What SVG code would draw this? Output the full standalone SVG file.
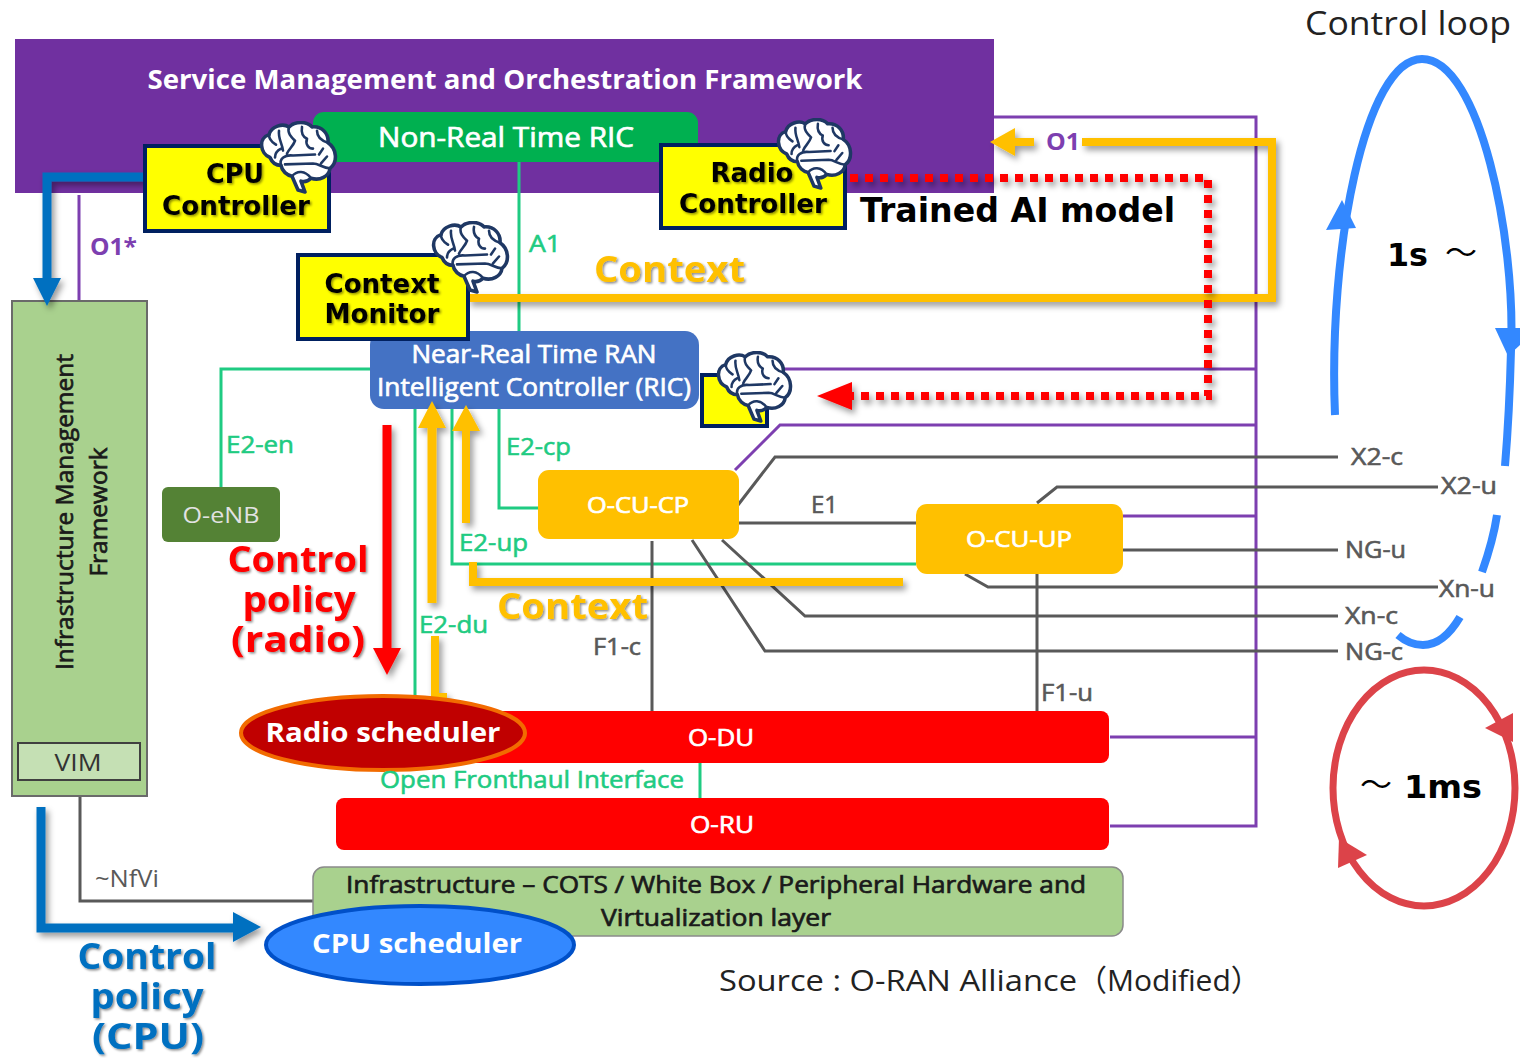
<svg xmlns="http://www.w3.org/2000/svg" xmlns:xlink="http://www.w3.org/1999/xlink" width="1520" height="1058" viewBox="0 0 1520 1058">
<defs>
<style>
text{font-family:"Open Sans","Noto Sans","Liberation Sans",sans-serif}
.b{font-weight:700}
.sb{stroke-width:.7}
.w{fill:#fff}
.sb.w{stroke:#fff}
.sb.d{fill:#1a1a1a;stroke:#1a1a1a}
.k{fill:#000}
.dv{font-family:"DejaVu Sans",sans-serif;font-weight:700}
.ctl{fill:#ff0;stroke:#002060;stroke-width:4}
.pur{fill:none;stroke:#7D3FB0;stroke-width:3}
.grn{fill:none;stroke:#1FCB82;stroke-width:3}
.gry{fill:none;stroke:#595959;stroke-width:3}
.gt{fill:#1FCB82;stroke:#1FCB82;stroke-width:.6;font-size:24px}
.gy{fill:#595959;stroke:#595959;stroke-width:.6;font-size:24px}
.yl{fill:none;stroke:#FFC000;stroke-width:8}
.ctx{fill:#FFC000;font-weight:700;font-size:35px}
</style>
<filter id="sh" x="-20%" y="-20%" width="150%" height="150%"><feDropShadow dx="3" dy="4" stdDeviation="3" flood-color="#000" flood-opacity=".4"/></filter>
<filter id="ts" x="-10%" y="-20%" width="120%" height="150%"><feDropShadow dx="1.5" dy="1.5" stdDeviation="1" flood-color="#000" flood-opacity=".45"/></filter>
<symbol id="brain" viewBox="0 0 82 74" preserveAspectRatio="none">
<path d="M13 37C3 33 1 17 12 14C14 5 26 2 32 6C38 0 50 0 55 6C65 5 72 13 71 22C80 28 81 42 73 48C72 56 63 61 54 58C51 61 47 62 44 61L48 72L41 70L35 56C30 55 25 51 24 45C19 45 15 42 13 37Z" fill="#fff" stroke="#1F3864" stroke-width="3.6" stroke-linejoin="round"/>
<path d="M12 14C12 20 16 22 19 24M22 10C21 18 25 22 26 30M32 6C30 12 34 16 38 20M38 20C36 26 32 28 30 33M45 6C44 12 46 16 50 18M50 18C48 24 52 28 56 28M60 10C60 16 64 20 71 22M24 45C22 38 28 34 36 35L58 34M28 44L56 43C62 43 66 48 73 48M62 34L66 28M64 43L70 36M24 28C20 30 18 33 18 37M35 56C40 50 48 50 54 58" fill="none" stroke="#1F3864" stroke-width="2.6" stroke-linecap="round"/>
</symbol>
</defs>
<rect width="1520" height="1058" fill="#fff"/>

<g id="smo">
<rect x="15" y="39" width="979" height="154" fill="#7030A0"/>
<text class="b w" x="505" y="89" font-size="26" text-anchor="middle" textLength="715" lengthAdjust="spacingAndGlyphs">Service Management and Orchestration Framework</text>
</g>
<g id="nonrt">
<rect x="313" y="112" width="385" height="50" rx="11" fill="#00B050"/>
<text class="sb w" x="506" y="147" font-size="27" text-anchor="middle" textLength="256" lengthAdjust="spacingAndGlyphs">Non-Real Time RIC</text>
</g>

<g id="connectors">
<path class="pur" d="M994 117H1256V826H1110M1110 737H1256M1123 516H1256M760 369H1256M735 470L780 425H1256M79 195V301"/>
<path class="grn" d="M519 162V331M370 369H221V487M499 409V508H538M452 409V564H916M415 409V696M700 763V798"/>
<path class="gry" d="M738 505L775 457H1338M1037 503L1057 487H1438M739 523H916M1123 550H1338M965 574L988 587H1438M722 540L805 616H1338M692 540L765 651H1338M652 541V711M1037 574V711M80 796V901H313"/>
</g>

<g id="enb">
<rect x="162" y="487" width="118" height="55" rx="6" fill="#548235"/>
<text x="221" y="523" font-size="22" fill="#E2E2E2" text-anchor="middle" textLength="77" lengthAdjust="spacingAndGlyphs">O-eNB</text>
</g>
<g id="cucp">
<rect x="538" y="470" width="201" height="69" rx="11" fill="#FFC000"/>
<text class="sb w" x="638" y="513" font-size="22" text-anchor="middle" textLength="102" lengthAdjust="spacingAndGlyphs">O-CU-CP</text>
</g>
<g id="cuup">
<rect x="916" y="504" width="207" height="70" rx="11" fill="#FFC000"/>
<text class="sb w" x="1019" y="547" font-size="22" text-anchor="middle" textLength="106" lengthAdjust="spacingAndGlyphs">O-CU-UP</text>
</g>
<g id="du">
<rect x="440" y="711" width="669" height="52" rx="8" fill="#f00"/>
<text class="sb w" x="721" y="746" font-size="23" text-anchor="middle" textLength="66" lengthAdjust="spacingAndGlyphs">O-DU</text>
</g>
<g id="ru">
<rect x="336" y="798" width="773" height="52" rx="8" fill="#f00"/>
<text class="sb w" x="722" y="833" font-size="23" text-anchor="middle" textLength="64" lengthAdjust="spacingAndGlyphs">O-RU</text>
</g>
<g id="infra">
<rect x="313" y="867" width="810" height="69" rx="11" fill="#A9D18E" stroke="#8a8a8a" stroke-width="1.5"/>
<text class="sb d" x="716" y="893" font-size="24" text-anchor="middle" textLength="740" lengthAdjust="spacingAndGlyphs">Infrastructure – COTS / White Box / Peripheral Hardware and</text>
<text class="sb d" x="716" y="926" font-size="24" text-anchor="middle" textLength="230" lengthAdjust="spacingAndGlyphs">Virtualization layer</text>
</g>
<g id="imf">
<rect x="12" y="301" width="135" height="495" fill="#A9D18E" stroke="#6a6a6a" stroke-width="2"/>
<text class="sb d" transform="translate(73 512) rotate(-90)" font-size="24" text-anchor="middle" textLength="316" lengthAdjust="spacingAndGlyphs">Infrastructure Management</text>
<text class="sb d" transform="translate(107 512) rotate(-90)" font-size="24" text-anchor="middle" textLength="129" lengthAdjust="spacingAndGlyphs">Framework</text>
<rect x="18" y="743" width="122" height="37" fill="#C5E0B4" stroke="#404040" stroke-width="2"/>
<text x="78" y="771" font-size="24" fill="#333" text-anchor="middle" textLength="47" lengthAdjust="spacingAndGlyphs">VIM</text>
</g>
<g id="ric">
<rect x="370" y="331" width="329" height="78" rx="14" fill="#4472C4"/>
<text class="sb w" x="534" y="363" font-size="25" text-anchor="middle" textLength="245" lengthAdjust="spacingAndGlyphs">Near-Real Time RAN</text>
<text class="sb w" x="534" y="396" font-size="25" text-anchor="middle" textLength="314" lengthAdjust="spacingAndGlyphs">Intelligent Controller (RIC)</text>
</g>

<g id="flows">
<g filter="url(#sh)">
<path d="M145 177H47V280" fill="none" stroke="#0070C0" stroke-width="9"/>
<path d="M33 278H61L47 306Z" fill="#0070C0"/>
</g>
<g filter="url(#sh)">
<path d="M41 807V928H235" fill="none" stroke="#0070C0" stroke-width="9"/>
<path d="M233 912L261 927L233 942Z" fill="#0070C0"/>
</g>
<g filter="url(#sh)">
<path d="M387 425V650" fill="none" stroke="#f00" stroke-width="9"/>
<path d="M373 648H401L387 675Z" fill="#f00"/>
</g>
<g filter="url(#sh)">
<path d="M432 603V428" fill="none" stroke="#FFC000" stroke-width="9"/>
<path d="M418 428H446L432 401Z" fill="#FFC000"/>
<path d="M466 523V430" fill="none" stroke="#FFC000" stroke-width="8"/>
<path d="M452 431H480L466 405Z" fill="#FFC000"/>
<path class="yl" d="M435 636V697H447"/>
<path class="yl" d="M473 562V582H903"/>
<path class="yl" d="M468 298H1272V142H1082"/>
<path d="M1034 142H1014" fill="none" stroke="#FFC000" stroke-width="8"/>
<path d="M1015 128V156L990 142Z" fill="#FFC000"/>
</g>
<g filter="url(#sh)">
<path d="M850 178H1208V396H850" fill="none" stroke="#f00" stroke-width="8" stroke-dasharray="8 7"/>
<path d="M852 382V410L817 396Z" fill="#f00"/>
</g>
</g>

<g id="radio-scheduler">
<ellipse cx="383" cy="733" rx="142" ry="37" fill="#C00000" stroke="#F26B00" stroke-width="4"/>
<text class="b w" x="383" y="742" font-size="26" text-anchor="middle" textLength="235" lengthAdjust="spacingAndGlyphs">Radio scheduler</text>
</g>
<g id="cpu-scheduler">
<ellipse cx="420" cy="945" rx="154" ry="39" fill="#3388FF" stroke="#0050C8" stroke-width="4"/>
<text class="b w" x="417" y="953" font-size="26" text-anchor="middle" textLength="210" lengthAdjust="spacingAndGlyphs">CPU scheduler</text>
</g>

<g id="cpu-controller">
<rect class="ctl" x="145" y="146" width="184" height="85"/>
<g filter="url(#ts)">
<text class="dv k" x="235" y="183" font-size="27" text-anchor="middle" textLength="58" lengthAdjust="spacingAndGlyphs">CPU</text>
<text class="dv k" x="236" y="215" font-size="27" text-anchor="middle" textLength="148" lengthAdjust="spacingAndGlyphs">Controller</text>
</g>
<use href="#brain" xlink:href="#brain" x="257" y="121" width="82" height="73"/>
</g>
<g id="radio-controller">
<rect class="ctl" x="661" y="145" width="184" height="83"/>
<g filter="url(#ts)">
<text class="dv k" x="752" y="182" font-size="27" text-anchor="middle" textLength="83" lengthAdjust="spacingAndGlyphs">Radio</text>
<text class="dv k" x="753" y="213" font-size="27" text-anchor="middle" textLength="148" lengthAdjust="spacingAndGlyphs">Controller</text>
</g>
<use href="#brain" xlink:href="#brain" x="774" y="118" width="80" height="72"/>
</g>
<g id="context-monitor">
<rect class="ctl" x="298" y="255" width="170" height="84"/>
<g filter="url(#ts)">
<text class="dv k" x="382" y="293" font-size="27" text-anchor="middle" textLength="115" lengthAdjust="spacingAndGlyphs">Context</text>
<text class="dv k" x="382" y="323" font-size="27" text-anchor="middle" textLength="115" lengthAdjust="spacingAndGlyphs">Monitor</text>
</g>
<use href="#brain" xlink:href="#brain" x="429" y="221" width="82" height="73"/>
</g>
<g id="ric-model">
<rect class="ctl" x="702" y="375" width="65" height="51"/>
<use href="#brain" xlink:href="#brain" x="714" y="351" width="80" height="72"/>
</g>

<g id="labels">
<text class="b" x="90" y="255" font-size="23" fill="#7D3FB0" textLength="47" lengthAdjust="spacingAndGlyphs">O1*</text>
<text class="b" x="1046" y="150" font-size="24" fill="#7D3FB0" textLength="34" lengthAdjust="spacingAndGlyphs">O1</text>
<text class="gt" x="529" y="252" textLength="32" lengthAdjust="spacingAndGlyphs">A1</text>
<text class="gt" x="226" y="453" textLength="68" lengthAdjust="spacingAndGlyphs">E2-en</text>
<text class="gt" x="506" y="455" textLength="65" lengthAdjust="spacingAndGlyphs">E2-cp</text>
<text class="gt" x="459" y="551" textLength="69" lengthAdjust="spacingAndGlyphs">E2-up</text>
<text class="gt" x="419" y="633" textLength="69" lengthAdjust="spacingAndGlyphs">E2-du</text>
<text class="gt" x="380" y="788" textLength="304" lengthAdjust="spacingAndGlyphs">Open Fronthaul Interface</text>
<text class="gy" x="811" y="513" textLength="27" lengthAdjust="spacingAndGlyphs">E1</text>
<text class="gy" x="593" y="655" textLength="48" lengthAdjust="spacingAndGlyphs">F1-c</text>
<text class="gy" x="1041" y="701" textLength="52" lengthAdjust="spacingAndGlyphs">F1-u</text>
<text class="gy" x="1351" y="465" textLength="52" lengthAdjust="spacingAndGlyphs">X2-c</text>
<text class="gy" x="1441" y="494" textLength="56" lengthAdjust="spacingAndGlyphs">X2-u</text>
<text class="gy" x="1345" y="558" textLength="61" lengthAdjust="spacingAndGlyphs">NG-u</text>
<text class="gy" x="1439" y="597" textLength="56" lengthAdjust="spacingAndGlyphs">Xn-u</text>
<text class="gy" x="1345" y="624" textLength="53" lengthAdjust="spacingAndGlyphs">Xn-c</text>
<text class="gy" x="1345" y="660" textLength="58" lengthAdjust="spacingAndGlyphs">NG-c</text>
<text x="95" y="887" font-size="24" fill="#595959" textLength="64" lengthAdjust="spacingAndGlyphs">~NfVi</text>
<text class="dv k" x="860" y="222" font-size="33" textLength="315" lengthAdjust="spacingAndGlyphs">Trained AI model</text>
<g filter="url(#ts)">
<text class="ctx" x="594" y="282" textLength="151" lengthAdjust="spacingAndGlyphs">Context</text>
<text class="ctx" x="497" y="619" textLength="151" lengthAdjust="spacingAndGlyphs">Context</text>
<g class="b" font-size="35" fill="#f00" text-anchor="middle">
<text x="298" y="572" textLength="141" lengthAdjust="spacingAndGlyphs">Control</text>
<text x="299" y="612" textLength="113" lengthAdjust="spacingAndGlyphs">policy</text>
<text x="298" y="652" textLength="134" lengthAdjust="spacingAndGlyphs">(radio)</text>
</g>
<g class="b" font-size="35" fill="#0070C0" text-anchor="middle">
<text x="147" y="969" textLength="139" lengthAdjust="spacingAndGlyphs">Control</text>
<text x="147" y="1009" textLength="113" lengthAdjust="spacingAndGlyphs">policy</text>
<text x="148" y="1049" textLength="112" lengthAdjust="spacingAndGlyphs">(CPU)</text>
</g>
</g>
<text x="1305" y="35" font-size="33" fill="#222" textLength="206" lengthAdjust="spacingAndGlyphs">Control loop</text>
<text class="dv k" x="1387" y="266" font-size="32" textLength="41" lengthAdjust="spacingAndGlyphs">1s</text>
<text x="1445" y="263" font-size="30" fill="#000" textLength="32" lengthAdjust="spacingAndGlyphs" style="font-family:'Noto Sans CJK JP',sans-serif">～</text>
<text x="1360" y="795" font-size="30" fill="#000" textLength="32" lengthAdjust="spacingAndGlyphs" style="font-family:'Noto Sans CJK JP',sans-serif">～</text>
<text class="dv k" x="1404" y="798" font-size="32" textLength="78" lengthAdjust="spacingAndGlyphs">1ms</text>
<text x="719" y="991" font-size="30" fill="#222" textLength="358" lengthAdjust="spacingAndGlyphs">Source : O-RAN Alliance</text>
<text x="1077" y="991" font-size="30" fill="#222" style="font-family:'Open Sans','Noto Sans CJK JP',sans-serif">（Modified）</text>
</g>

<g id="loops">
<path d="M1335 415C1328 250 1365 59 1422 59C1480 59 1516 240 1511 350C1510 390 1508 430 1505 466M1497 515C1494 535 1488 555 1482 572M1460 617C1450 634 1437 645 1423 645C1414 645 1405 641 1398 635" fill="none" stroke="#3388FF" stroke-width="8"/>
<path d="M1342 200L1326 230L1356 228Z" fill="#3388FF"/>
<path d="M1508 356L1495 328H1520V345Z" fill="#3388FF"/>
<ellipse cx="1424" cy="788" rx="91" ry="118" fill="none" stroke="#DC4349" stroke-width="7"/>
<path d="M1485 728L1513 713V742Z" fill="#DC4349"/>
<path d="M1338 868L1339 838L1367 855Z" fill="#DC4349"/>
</g>
</svg>
